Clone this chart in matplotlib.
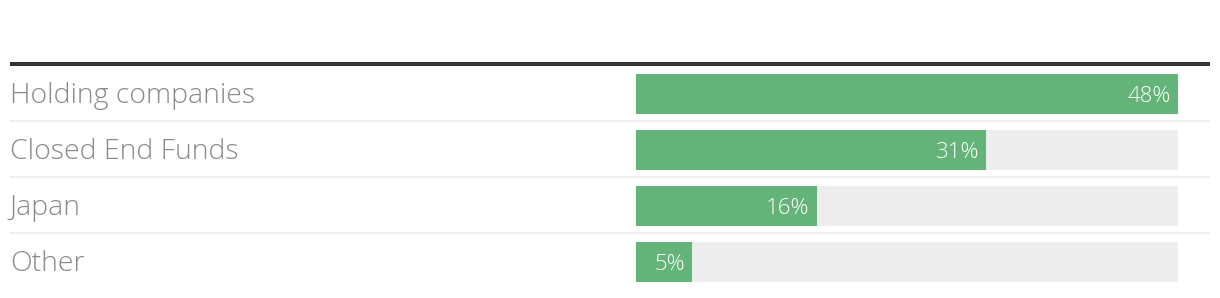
import matplotlib
matplotlib.use("Agg")
import matplotlib.pyplot as plt
import matplotlib.transforms as mtransforms

categories = ["Holding companies", "Closed End Funds", "Japan", "Other"]
values = [48, 31, 16, 5]
value_labels = ["48%", "31%", "16%", "5%"]
scale_max = 48

W, H = 1220, 298
DPI = 100
fig = plt.figure(figsize=(W / DPI, H / DPI), dpi=DPI)
fig.patch.set_facecolor("white")

left_px, right_px = 10, 1210
top_px, bot_px = 60, 298
ax = fig.add_axes([left_px / W, 1 - bot_px / H, (right_px - left_px) / W, (bot_px - top_px) / H])
ax.set_axis_off()

bar_x0, bar_x1 = 636, 1178
ppu = (bar_x1 - bar_x0) / scale_max
ax.set_xlim(-(bar_x0 - left_px) / ppu, (right_px - bar_x0) / ppu)
pitch = 56
ax.set_ylim((bot_px - 94) / pitch, (top_px - 94) / pitch)

green = "#64b47a"
track = "#ededed"
sep = "#ebebeb"
text_grey = "#8a8a8a"
bar_h = 40 / pitch

ypos = list(range(len(categories)))
ax.barh(ypos, [scale_max] * len(categories), height=bar_h, color=track, left=0, zorder=1)
ax.barh(ypos, values, height=bar_h, color=green, left=0, zorder=2)

blend = mtransforms.blended_transform_factory(ax.transAxes, ax.transData)
ax.plot([0, 1], [(64 - 94) / pitch] * 2, transform=blend, color="#333333", lw=4 * 72 / DPI,
        solid_capstyle="butt", zorder=3)
for i in range(len(categories) - 1):
    yy = i + 26.5 / pitch
    ax.plot([0, 1], [yy, yy], transform=blend, color=sep, lw=1.6 * 72 / DPI,
            solid_capstyle="butt", zorder=1)

for i, (c, v, lab) in enumerate(zip(categories, values, value_labels)):
    ax.text(0.0, i + 8.7 / pitch, c, transform=blend, ha="left", va="baseline",
            fontsize=20.5, color=text_grey, family=["Open Sans", "DejaVu Sans"], fontweight="light")
    ax.text(v - 7 / ppu, i + 8.3 / pitch, lab, ha="right", va="baseline",
            fontsize=16, color="white", family=["Open Sans", "DejaVu Sans"], fontweight="light", zorder=4)

fig.savefig("out.png", dpi=DPI, facecolor="white")
